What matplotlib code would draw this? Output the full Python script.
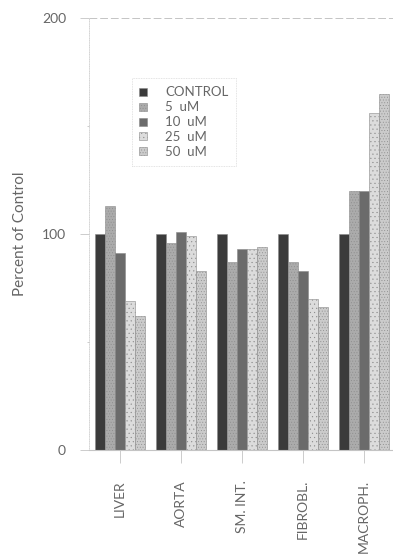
import matplotlib
matplotlib.use("Agg")
import matplotlib.pyplot as plt
import numpy as np

tissues = ["LIVER", "AORTA", "SM. INT.", "FIBROBL.", "MACROPH."]
doses = ["CONTROL", "5  uM", "10  uM", "25  uM", "50  uM"]

control = [100, 100, 100, 100, 100]
um_5 = [113, 96, 87, 87, 120]
um_10 = [91, 101, 93, 83, 120]
um_25 = [69, 99, 93, 70, 156]
um_50 = [62, 83, 94, 66, 165]
series = [control, um_5, um_10, um_25, um_50]

colors = ["#3b3b3b", "#ababab", "#6b6b6b", "#dcdcdc", "#cbcbcb"]
hatches = [None, "......", None, "....", "......"]

plt.rcParams['font.family'] = ['Lato', 'DejaVu Sans']
plt.rcParams['hatch.color'] = "#bcbcbc"
plt.rcParams['hatch.linewidth'] = 0.3
text_col = "#666666"
line_col = "#c4c4c4"

fig = plt.figure(figsize=(3.93, 5.56), dpi=100)
ax = fig.add_axes([0.2265, 0.1906, 0.7735, 0.777])

w = 1 / 6
x = np.arange(len(tissues))
for k, vals in enumerate(series):
    bars = ax.bar(x + (k - 2) * w, vals, width=w, color=colors[k],
                  edgecolor="#8a8a8a", linewidth=0.4, label=doses[k])
    if hatches[k]:
        for b in bars:
            b.set_hatch(hatches[k])

ax.set_xlim(-0.508, 4.475)
ax.set_ylim(0, 200)

# light dotted frame, only left and bottom axes
for side in ["top", "right"]:
    ax.spines[side].set_visible(False)
ax.spines["left"].set_color(line_col)
ax.spines["left"].set_linestyle((0, (1, 1.5)))
ax.spines["left"].set_linewidth(0.5)
ax.spines["bottom"].set_color(line_col)
ax.spines["bottom"].set_linewidth(0.8)
ax.axhline(200, color=line_col, linewidth=0.7, linestyle=(0, (8, 3)), clip_on=False)

ax.set_yticks([0, 100, 200])
ax.set_yticks([50, 150], minor=True)
ax.tick_params(axis="y", which="major", length=6.5, width=0.6, color=line_col,
               labelcolor=text_col, labelsize=10, pad=10)
ax.tick_params(axis="y", which="minor", length=1.5, width=0.6, color=line_col)

ax.set_xticks(x)
ax.set_xticklabels(tissues, rotation=90, va="top", ha="center")
ax.tick_params(axis="x", length=9.5, width=0.6, color=line_col,
               labelcolor=text_col, labelsize=10, pad=12)

ax.set_ylabel("Percent of Control", color=text_col, fontsize=11, labelpad=11)

leg = ax.legend(loc="upper left", bbox_to_anchor=(0.14, 0.86), frameon=True,
                fontsize=9.5, handlelength=0.55, handleheight=0.55,
                handletextpad=1.4, labelspacing=0.22, borderpad=0.6,
                borderaxespad=0, fancybox=False)
frame = leg.get_frame()
frame.set_edgecolor("#d2d2d2")
frame.set_linestyle((0, (1, 1)))
frame.set_linewidth(0.6)
for t in leg.get_texts():
    t.set_color(text_col)

fig.savefig("out.png", dpi=100)
